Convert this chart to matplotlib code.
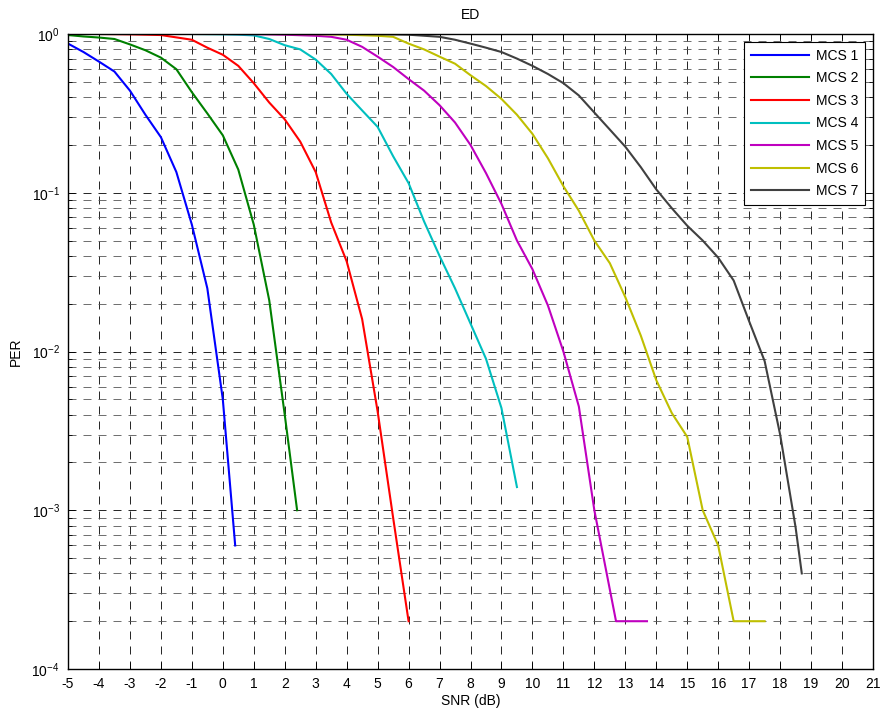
import numpy as np
import matplotlib
matplotlib.use('Agg')
import matplotlib.pyplot as plt
from matplotlib.ticker import LogLocator, LogFormatterSciNotation, NullFormatter

plt.rcParams['font.family'] = ['Liberation Sans', 'DejaVu Sans']
plt.rcParams['mathtext.default'] = 'regular'
plt.rcParams['axes.unicode_minus'] = False
plt.rcParams['font.size'] = 10

# --- Data ---
snr_mcs1 = [-5, -4.5, -4, -3.5, -3, -2.5, -2, -1.5, -1, -0.5, 0, 0.4]
per_mcs1 = [0.87, 0.77, 0.67, 0.58, 0.44, 0.31, 0.224, 0.135, 0.063, 0.025, 0.005, 0.0006]

snr_mcs2 = [-5, -4.5, -4, -3.5, -3, -2.5, -2, -1.5, -1, -0.5, 0, 0.5, 1, 1.5, 2, 2.4]
per_mcs2 = [0.985, 0.965, 0.95, 0.93, 0.86, 0.79, 0.71, 0.6, 0.43, 0.316, 0.23, 0.14,
            0.063, 0.021, 0.004, 0.001]

snr_mcs3 = [-4, -3, -2, -1, -0.5, 0, 0.5, 1, 1.5, 2, 2.5, 3, 3.5, 4, 4.5, 5, 5.5, 6]
per_mcs3 = [1.0, 0.995, 0.985, 0.92, 0.82, 0.74, 0.63, 0.49, 0.37, 0.29, 0.21, 0.135,
            0.065, 0.037, 0.016, 0.0042, 0.0009, 0.0002]

snr_mcs4 = [-1, 0, 0.5, 1, 1.5, 2, 2.5, 3, 3.5, 4, 4.5, 5, 5.5, 6, 6.5, 7, 7.5, 8,
            8.5, 9, 9.5]
per_mcs4 = [1.0, 0.995, 0.99, 0.98, 0.93, 0.85, 0.8, 0.69, 0.56, 0.42, 0.33, 0.26,
            0.17, 0.115, 0.066, 0.04, 0.025, 0.015, 0.009, 0.0044, 0.0014]

snr_mcs5 = [0, 1, 2, 3, 3.5, 4, 4.5, 5, 5.5, 6, 6.5, 7, 7.5, 8, 8.5, 9, 9.5, 10,
            10.5, 11, 11.5, 12, 12.7, 13.7]
per_mcs5 = [1.0, 0.998, 0.99, 0.975, 0.96, 0.92, 0.83, 0.72, 0.62, 0.52, 0.44, 0.356,
            0.277, 0.2, 0.133, 0.085, 0.05, 0.033, 0.0195, 0.01, 0.0045, 0.001,
            0.0002, 0.0002]

snr_mcs6 = [1, 2, 3, 4, 5, 5.5, 6, 6.5, 7, 7.5, 8, 8.5, 9, 9.5, 10, 10.5, 11, 11.5,
            12, 12.5, 13, 13.5, 14, 14.5, 15, 15.5, 16, 16.5, 17.5]
per_mcs6 = [1.0, 1.0, 0.998, 0.99, 0.975, 0.96, 0.87, 0.8, 0.72, 0.65, 0.55, 0.47,
            0.39, 0.31, 0.235, 0.165, 0.11, 0.077, 0.05, 0.036, 0.022, 0.0126, 0.0066,
            0.0041, 0.0029, 0.001, 0.0006, 0.0002, 0.0002]

snr_mcs7 = [3, 4, 5, 6, 7, 7.5, 8, 8.5, 9, 9.5, 10, 10.5, 11, 11.5, 12, 12.5, 13,
            13.5, 14, 14.5, 15, 15.5, 16, 16.5, 17, 17.5, 18, 18.5, 18.7]
per_mcs7 = [1.0, 1.0, 0.998, 0.99, 0.96, 0.92, 0.87, 0.82, 0.77, 0.7, 0.63, 0.56,
            0.49, 0.41, 0.32, 0.25, 0.195, 0.145, 0.105, 0.08, 0.062, 0.05, 0.039,
            0.028, 0.0155, 0.0087, 0.003, 0.00078, 0.0004]

labels = ['MCS 1', 'MCS 2', 'MCS 3', 'MCS 4', 'MCS 5', 'MCS 6', 'MCS 7']
colors = ['#0000ff', '#008000', '#ff0000', '#00bfbf', '#bf00bf', '#bfbf00', '#404040']
x_ticks = list(range(-5, 22))

# --- Plot ---
fig = plt.figure(figsize=(8.8, 7.11), dpi=100)
ax = fig.add_axes([68 / 880, 1 - 669 / 711, 805 / 880, 635 / 711])

series = [(snr_mcs1, per_mcs1), (snr_mcs2, per_mcs2), (snr_mcs3, per_mcs3),
          (snr_mcs4, per_mcs4), (snr_mcs5, per_mcs5), (snr_mcs6, per_mcs6),
          (snr_mcs7, per_mcs7)]
for (x, y), lab, c in zip(series, labels, colors):
    ax.semilogy(x, y, color=c, lw=1.5, label=lab)

ax.set_xlim(-5, 21)
ax.set_ylim(1e-4, 1)
ax.set_xticks(x_ticks)
ax.yaxis.set_major_locator(LogLocator(base=10, numticks=10))
ax.yaxis.set_minor_locator(LogLocator(base=10, subs=np.arange(2, 10), numticks=20))
ax.yaxis.set_major_formatter(LogFormatterSciNotation())
ax.yaxis.set_minor_formatter(NullFormatter())

dash = (0, (9.6, 8.4))
ax.grid(True, which='major', axis='both', color='k', lw=0.6, linestyle=dash)
ax.grid(True, which='minor', axis='y', color='#555555', lw=0.6, linestyle=dash)

ax.tick_params(which='both', direction='in', top=True, right=True, labelsize=10)
ax.tick_params(which='major', length=5, width=0.6, pad=6)
ax.tick_params(which='minor', length=3, width=0.6)
for sp in ax.spines.values():
    sp.set_linewidth(1.0)

ax.set_title('ED', fontsize=10, pad=11)
ax.set_xlabel('SNR (dB)', fontsize=10, labelpad=2)
ax.set_ylabel('PER', fontsize=10, labelpad=6)

leg = ax.legend(loc='upper right', fontsize=10, fancybox=False, framealpha=1,
                edgecolor='k', handlelength=4.2, handletextpad=0.5,
                labelspacing=0.62, borderaxespad=0.55, borderpad=0.5)
leg.get_frame().set_linewidth(0.8)

fig.savefig('out.png', dpi=100)
